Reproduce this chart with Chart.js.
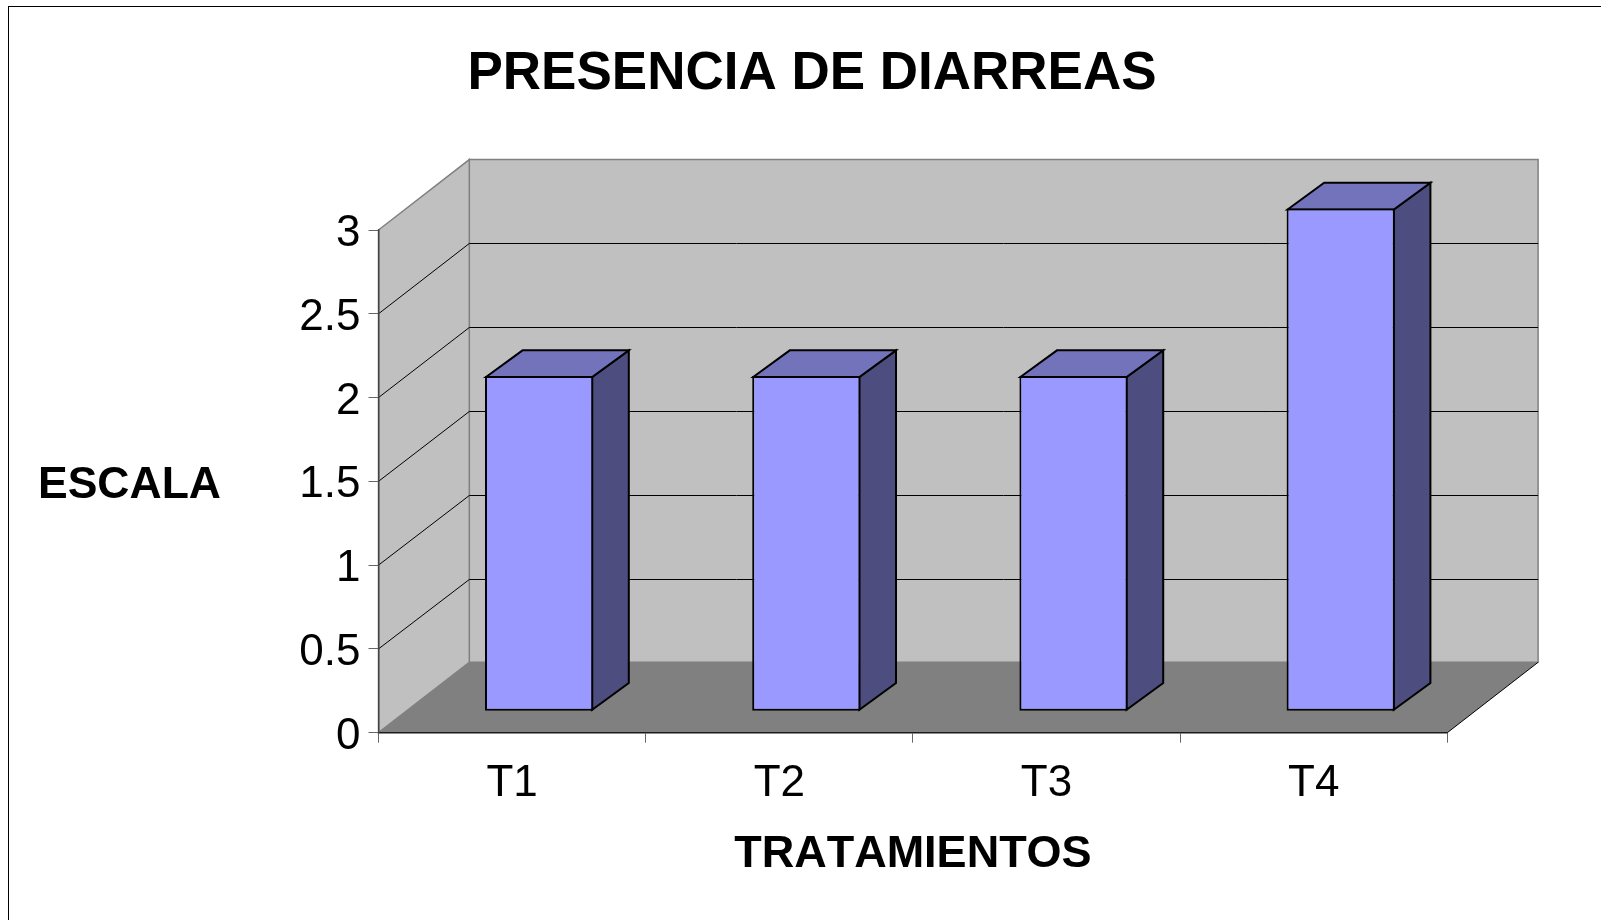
<!DOCTYPE html>
<html>
<head>
<meta charset="utf-8">
<title>Presencia de diarreas</title>
<script src="https://cdn.jsdelivr.net/npm/chart.js@4/dist/chart.umd.js"></script>
<style>
    html, body { margin: 0; height: 100%; overflow: hidden; background: #fff; }
    #frame { position: absolute; left: 8px; top: 6px; width: 1700px; height: 1000px; border: 1px solid #000; }
    #chart { position: absolute; left: 0; top: 0; }
</style>
</head>
<body>
<div id="frame"><canvas id="chart" width="1606" height="913"></canvas></div>
<script>
const categories = ['T1', 'T2', 'T3', 'T4'];
const values = [2, 2, 2, 3];
const yTickLabels = ['0', '0.5', '1', '1.5', '2', '2.5', '3'];

const chartTitle = 'PRESENCIA DE DIARREAS';
const xTitle = 'TRATAMIENTOS';
const yTitle = 'ESCALA';

// Depth of the fake 3D box, and of each bar inside it
const boxDepth = { x: 90.8, y: -70.4 };
const barOffset = { x: 27, y: -21.5 };
const barDepth = { x: 36.6, y: -26.7 };

function face(ctx, points, fill, stroke, lineWidth) {
    ctx.beginPath();
    points.forEach(function(p, i) {
        if(i === 0) ctx.moveTo(p[0], p[1]); else ctx.lineTo(p[0], p[1]);
    });
    ctx.closePath();
    if(fill) {
        ctx.fillStyle = fill;
        ctx.fill();
    }
    if(stroke) {
        ctx.strokeStyle = stroke;
        ctx.lineWidth = lineWidth;
        ctx.stroke();
    }
}

const box3d = {
    id: 'box3d',
    // Walls, floor and grid sit behind the axes
    beforeDraw: function(chart) {
        const ctx = chart.ctx;
        const x = chart.scales.x;
        const y = chart.scales.y;
        const dx = boxDepth.x;
        const dy = boxDepth.y;
        // The reference text has no kerning
        ctx.fontKerning = 'none';
        ctx.save();
        face(ctx, [[x.left + dx, y.top + dy], [x.right + dx, y.top + dy], [x.right + dx, y.bottom + dy], [x.left + dx, y.bottom + dy]], '#C0C0C0', '#808080', 1.5);
        face(ctx, [[x.left, y.top], [x.left + dx, y.top + dy], [x.left + dx, y.bottom + dy], [x.left, y.bottom]], '#C0C0C0', '#808080', 1.5);
        y.ticks.forEach(function(tick) {
            if(tick.value === 0 || tick.value === y.max) return;
            const py = y.getPixelForValue(tick.value);
            const backY = Math.round(py + dy) + 0.5;
            ctx.beginPath();
            ctx.moveTo(x.left, py);
            ctx.lineTo(x.left + dx, backY);
            ctx.lineTo(x.right + dx, backY);
            ctx.strokeStyle = '#000';
            ctx.lineWidth = 1;
            ctx.stroke();
        });
        face(ctx, [[x.left, y.bottom], [x.left + dx, y.bottom + dy], [x.right + dx, y.bottom + dy], [x.right, y.bottom]], '#808080');
        ctx.beginPath();
        ctx.moveTo(x.right, y.bottom);
        ctx.lineTo(x.right + dx, y.bottom + dy);
        ctx.strokeStyle = '#000';
        ctx.lineWidth = 1;
        ctx.stroke();
        ctx.restore();
    },
    // Shift the library's bars into the box and add their top and side
    beforeDatasetDraw: function(chart, args) {
        const ctx = chart.ctx;
        ctx.save();
        ctx.translate(barOffset.x, barOffset.y);
        args.meta.data.forEach(function(bar) {
            const left = bar.x - bar.width / 2;
            const right = bar.x + bar.width / 2;
            const dx = barDepth.x;
            const dy = barDepth.y;
            face(ctx, [[right - 1, bar.base - 1], [right - 1 + dx, bar.base - 1 + dy], [right - 1 + dx, bar.y + 1 + dy], [right - 1, bar.y + 1]], '#4D4D80', '#000', 2);
            face(ctx, [[left + 1, bar.y + 1], [left + 1 + dx, bar.y + 1 + dy], [right - 1 + dx, bar.y + 1 + dy], [right - 1, bar.y + 1]], '#7373BC', '#000', 2);
        });
    },
    afterDatasetDraw: function(chart) {
        chart.ctx.restore();
    },
    // Chart.js only rotates a y axis title, this one is horizontal
    afterDraw: function(chart) {
        const ctx = chart.ctx;
        ctx.save();
        ctx.font = 'bold 44.5px "Liberation Sans"';
        ctx.fillStyle = '#000';
        ctx.textBaseline = 'middle';
        ctx.textAlign = 'left';
        ctx.fillText(yTitle, 29, 479);
        ctx.restore();
    }
};

new Chart(document.getElementById('chart'), {
    type: 'bar',
    data: {
        labels: categories,
        datasets: [{
            data: values,
            backgroundColor: '#9999FF',
            borderColor: '#000',
            borderWidth: 2,
            borderSkipped: false,
            categoryPercentage: 1,
            barPercentage: 0.405,
            clip: false
        }]
    },
    options: {
        responsive: false,
        animation: false,
        // Equal side padding keeps the title centred where the reference has it
        layout: { padding: { left: 167.7, right: 167.7, top: 0, bottom: 0 } },
        plugins: {
            legend: { display: false },
            tooltip: { enabled: false },
            title: {
                display: true,
                text: chartTitle,
                color: '#000',
                font: { family: '"Liberation Sans"', size: 53, weight: 'bold', lineHeight: 1.2 },
                padding: { top: 35.7, bottom: 123.7 }
            }
        },
        scales: {
            x: {
                afterFit: function(scale) { scale.height = 187.3; },
                grid: { drawOnChartArea: false, tickLength: 10, tickColor: '#666', offset: true },
                border: { color: '#1a1a1a', width: 1.5 },
                ticks: {
                    color: '#000',
                    padding: 15,
                    maxRotation: 0,
                    autoSkip: false,
                    font: { family: '"Liberation Sans"', size: 44 }
                },
                title: {
                    display: true,
                    text: xTitle,
                    color: '#000',
                    font: { family: '"Liberation Sans"', size: 45, weight: 'bold', lineHeight: 1.2 },
                    padding: { top: 0, bottom: 38 }
                }
            },
            y: {
                min: 0,
                max: 3,
                afterFit: function(scale) { scale.width = 201.8; },
                grid: { drawOnChartArea: false, tickLength: 10, tickColor: '#666' },
                border: { color: '#444', width: 1.5 },
                ticks: {
                    stepSize: 0.5,
                    color: '#000',
                    padding: 8,
                    labelOffset: 4,
                    font: { family: '"Liberation Sans"', size: 44 },
                    callback: function(value, index) { return yTickLabels[index]; }
                }
            }
        }
    },
    plugins: [box3d]
});
</script>
</body>
</html>
